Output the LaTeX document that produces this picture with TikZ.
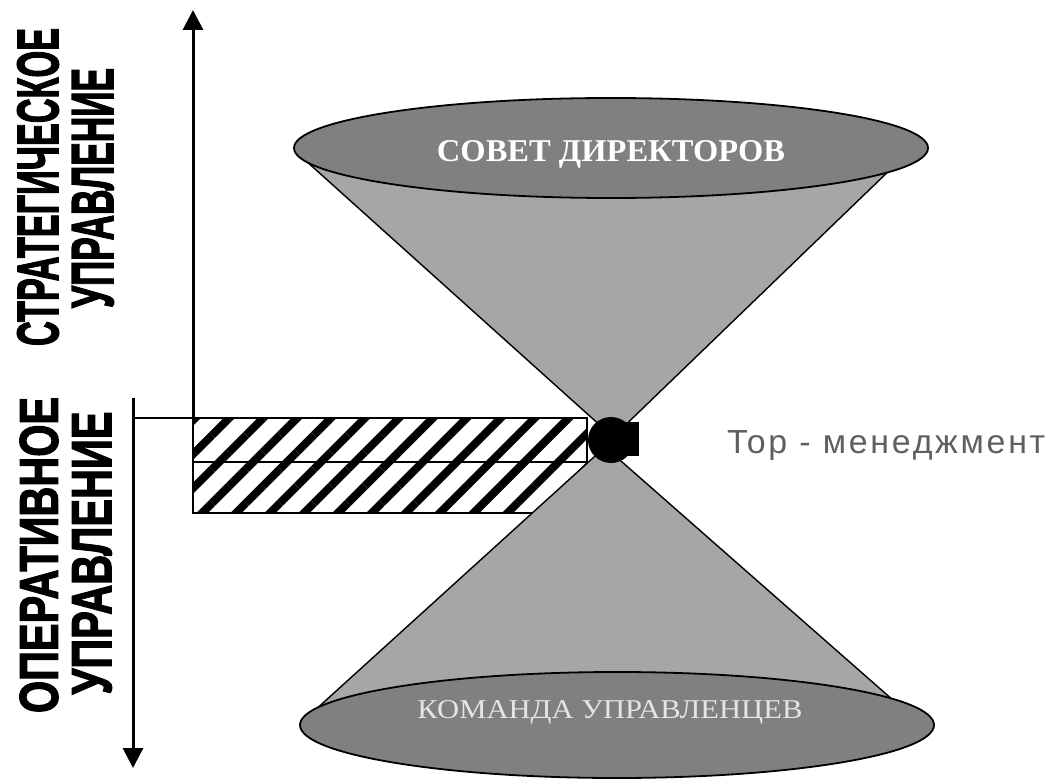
\documentclass[tikz,border=0pt]{standalone}
\usepackage{fontspec}
\setmainfont{Liberation Serif}
\newfontfamily\sidefont{Liberation Sans}
\newfontfamily\heavyfont{Liberation Sans}[BoldFeatures={FakeBold=2.5}]
\usetikzlibrary{arrows.meta,shapes.geometric,patterns.meta}

\definecolor{discgray}{RGB}{128,128,128}
\definecolor{conegray}{RGB}{166,166,166}
\definecolor{topgray}{RGB}{95,95,95}

\newcommand{\fitto}[3]{\resizebox{#1pt}{#2pt}{#3}}

\begin{document}
\begin{tikzpicture}[x=1pt,y=-1pt,
    disc/.style={ellipse,draw,line width=1.8pt,fill=discgray,inner sep=0pt,minimum width=634pt,minimum height=100pt},
    disctext/.style={anchor=base,inner sep=0pt},
    cone/.style={fill=conegray},
    coneedge/.style={line width=1.4pt},
    hatchbox/.style={draw,line width=1.6pt,pattern={Lines[angle=45,distance=24pt,line width=8pt]}},
    axis/.style={line width=3pt,-{Triangle[length=20pt,width=20pt]}},
    sidelabel/.style={rotate=90,inner sep=0pt,font=\heavyfont\bfseries}
]
\useasboundingbox (0,0) rectangle (1054,783);

% side labels
\node[sidelabel] (strat1) at (38,187) {\fitto{318}{41}{СТРАТЕГИЧЕСКОЕ}};
\node[sidelabel] (strat2) at (93,188) {\fitto{240}{41}{УПРАВЛЕНИЕ}};
\node[sidelabel] (oper1) at (39,555) {\fitto{316}{38}{ОПЕРАТИВНОЕ}};
\node[sidelabel] (oper2) at (92,553) {\fitto{283}{39}{УПРАВЛЕНИЕ}};

% hatched levels
\draw[hatchbox] (193,418) rectangle (587,462);
\draw[hatchbox] (193,462) rectangle (587,513);

% cones
\coordinate (upapex) at (613,437);
\coordinate (upleft) at (305,160);
\coordinate (upright) at (895,165);
\coordinate (lowapex) at (605,447);
\coordinate (lowleft) at (302,722);
\coordinate (lowright) at (902,708);
\fill[cone] (upleft) -- (upapex) -- (upright) -- cycle;
\draw[coneedge] (upleft) -- (upapex) -- (upright);
\fill[cone] (lowleft) -- (lowapex) -- (lowright) -- cycle;
\draw[coneedge] (lowleft) -- (lowapex) -- (lowright);

% discs
\node[disc] (board) at (611,148) {};
\node[disctext,text=white] (boardtext) at (611,162) {\fitto{348}{21}{\bfseries СОВЕТ ДИРЕКТОРОВ}};
\node[disc,minimum height=106pt] (team) at (617,725) {};
\node[disctext,text=white!90!black] (teamtext) at (610,718) {\fitto{385}{18}{КОМАНДА УПРАВЛЕНЦЕВ}};

% top management point
\node[circle,fill=black,minimum size=46pt,inner sep=0pt] (hub) at (611,440) {};
\fill (611,422) rectangle (639,456);
\node[anchor=base west,inner sep=0pt,text=topgray] (topman) at (727,453) {\fitto{318}{23}{\sidefont\addfontfeatures{LetterSpace=8}Top - менеджмент}};

% axes
\coordinate (origin) at (193,418);
\coordinate (uptip) at (193,10);
\coordinate (opstart) at (133,398);
\coordinate (downtip) at (133,768);
\draw[axis] (origin) -- (uptip);
\draw[axis] (opstart) -- (downtip);
\draw[line width=2pt] (opstart |- origin) -- (origin);
\end{tikzpicture}
\end{document}
